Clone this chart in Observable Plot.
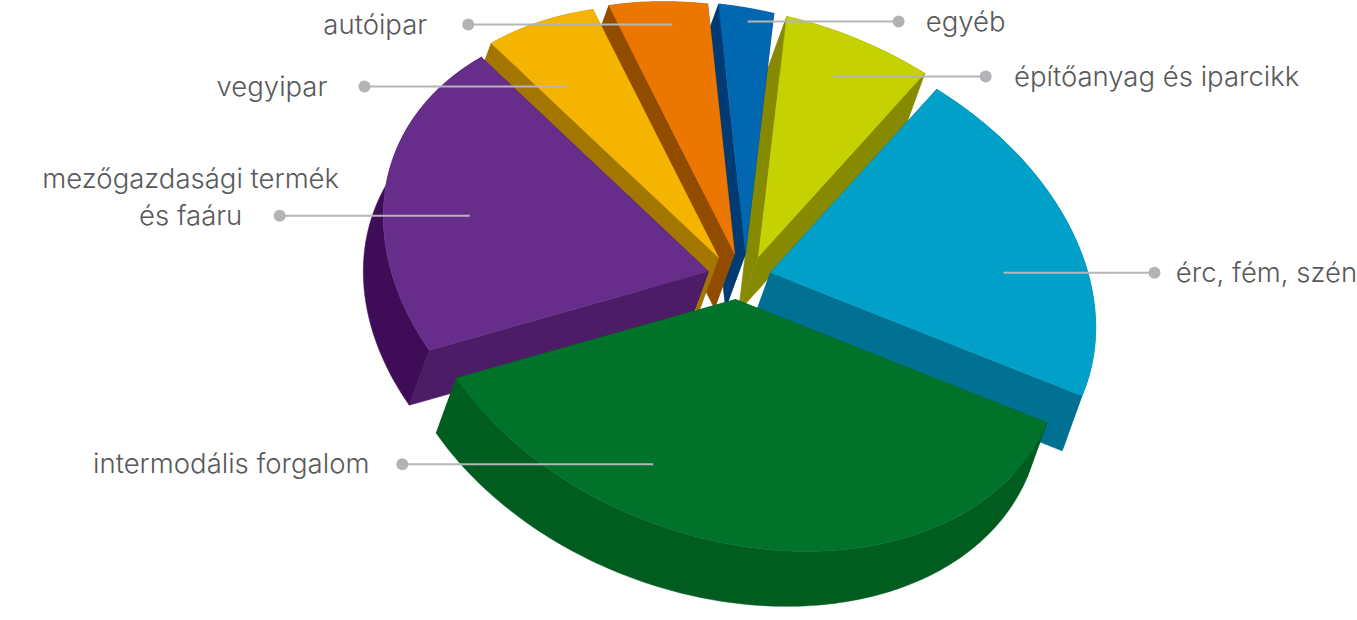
<!DOCTYPE html>
<html lang="hu">
<head>
<meta charset="utf-8">
<script src="https://cdn.jsdelivr.net/npm/d3@7"></script>
<script src="https://cdn.jsdelivr.net/npm/@observablehq/plot@0.6"></script>
<style>
html,body{margin:0;padding:0;background:#fff;overflow:hidden}
svg{display:block}
</style>
</head>
<body>
<div id="chart"></div>
<script>
// --- Data (share of the pie, %), going round from the front right towards the back
const categories = ["érc, fém, szén","építőanyag és iparcikk","egyéb","autóipar","vegyipar","mezőgazdasági termék\nés faáru","intermodális forgalom"];
const shares     = [21.1, 7.15, 2.7, 5.0, 6.0, 21.25, 36.8];

// --- Colours
const topColors  = ["#00a0c8","#c5d100","#0067b0","#ec7700","#f5b400","#662d8a","#00722a"];
const wallColors = ["#007093","#868a00","#003b73","#924c00","#a37600","#4c1d66","#005c1f"];
const arcColors  = ["#007093","#868a00","#003b73","#924c00","#a37600","#3f0d58","#005c1f"];

// --- Projection of the tilted disc
const axisAngle = 20.1 * Math.PI / 180, semiMajor = 335.1, semiMinor = 238.5;
const startAngle = 2.1;
const depth = [-20, 55];
const centre = [740, 276];
// how far each slice is pulled out of the pie (screen px)
const explodeX = [30, 18, 5, -6, -22, -32, -5];
const explodeY = [-4, -20, -23, -23, -19, -5, 23];
// paint order: back to front
const paintOrder = [1, 0, 2, 3, 4, 5, 6];

// --- Leader anchors: fraction across the slice, fraction of radius, length, label offset
const leaderTurn  = [0.385, 0.556, 0.474, 0.413, 0.714, 0.533, 0.302];
const leaderReach = [0.734, 0.817, 0.945, 0.909, 0.752, 0.737, 0.77];
const leaderLen   = [151, 152, 151, -204, -203, -190, -251];
const labelOffset = [112, 171, 67, -93, -92.5, -89, -171];

const project = (deg, r) => {
  const t = deg * Math.PI / 180, u = r * Math.cos(t) * semiMajor, v = r * Math.sin(t) * semiMinor;
  return [u * Math.cos(axisAngle) - v * Math.sin(axisAngle), u * Math.sin(axisAngle) + v * Math.cos(axisAngle)];
};

const total = d3.sum(shares);
let cursor = startAngle;
const slices = shares.map((s, i) => {
  const a0 = cursor, a1 = cursor - s / total * 360;
  cursor = a1;
  return {i, a0, a1, apex: [centre[0] + explodeX[i], centre[1] + explodeY[i]]};
});

const rows = [];
const addPoly = (id, fill, pts) => {
  [...pts, pts[0]].forEach(([x, y]) => rows.push({id, fill, x, y}));
};
const ext = ([x, y]) => [x + depth[0], y + depth[1]];
for (const k of paintOrder) {
  const s = slices[k];
  const arc = d3.range(0, 121).map(j => {
    const p = project(s.a0 + (s.a1 - s.a0) * j / 120, 1);
    return [s.apex[0] + p[0], s.apex[1] + p[1]];
  });
  const first = arc[0], last = arc[arc.length - 1];
  addPoly(k + "-r0", wallColors[k], [s.apex, first, ext(first), ext(s.apex)]);
  addPoly(k + "-r1", wallColors[k], [s.apex, last, ext(last), ext(s.apex)]);
  addPoly(k + "-arc", arcColors[k], [...arc, ...arc.map(ext).reverse()]);
  addPoly(k + "-top", topColors[k], [s.apex, ...arc]);
}

const leaders = slices.map(s => {
  const p = project(s.a0 + (s.a1 - s.a0) * leaderTurn[s.i], leaderReach[s.i]);
  const x = s.apex[0] + p[0], y = s.apex[1] + p[1];
  return {x, y, dotX: x + leaderLen[s.i], textX: x + leaderLen[s.i] + labelOffset[s.i], label: categories[s.i]};
});

const chart = Plot.plot({
  width: 1357, height: 620,
  margin: 0,
  x: {domain: [0, 1357], range: [0, 1357], axis: null},
  y: {domain: [0, 620], range: [0, 620], axis: null},
  color: {type: "identity"},
  marks: [
    Plot.line(rows, {x: "x", y: "y", z: "id", fill: "fill", stroke: "fill", strokeWidth: 0.5}),
    Plot.link(leaders, {x1: "x", y1: "y", x2: "dotX", y2: "y", stroke: "#b5b6b8", strokeWidth: 2}),
    Plot.dot(leaders, {x: "dotX", y: "y", r: 6, fill: "#b1b3b6", stroke: "none"}),
    Plot.text(leaders, {x: "textX", y: "y", text: "label", textAnchor: "middle", lineAnchor: "bottom", dy: 9, lineHeight: 1.33,
      fill: "#58595b", fontSize: 27.5, fontWeight: 300, fontFamily: "Inter"})
  ]
});
chart.style.background = "#fff";
document.getElementById("chart").append(chart);
</script>
</body>
</html>
